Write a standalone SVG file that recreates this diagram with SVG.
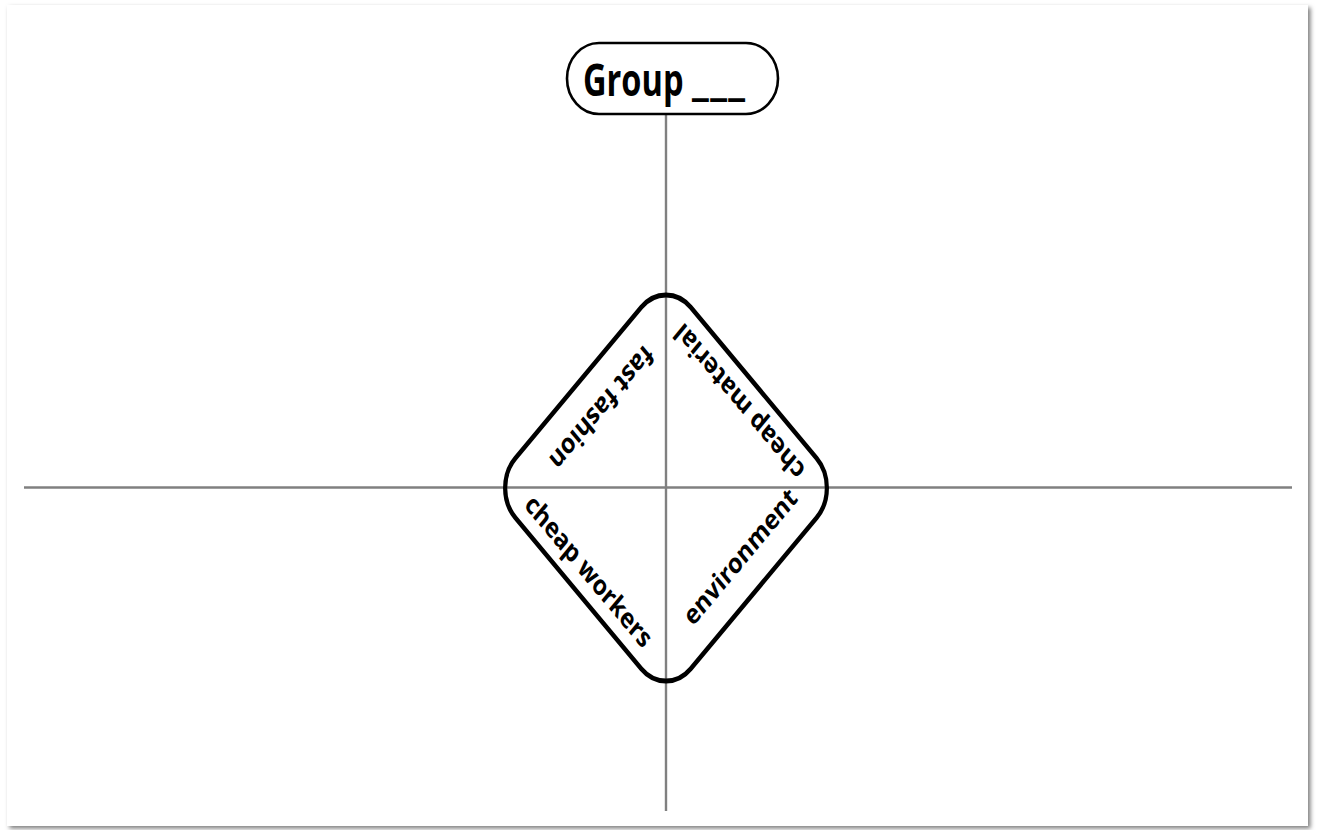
<svg xmlns="http://www.w3.org/2000/svg" width="1321" height="830" viewBox="0 0 1321 830">
  <defs>
    <filter id="shadow" x="-2%" y="-2%" width="104%" height="104%">
      <feDropShadow dx="2.5" dy="2.5" stdDeviation="2" flood-color="#000" flood-opacity="0.5"/>
    </filter>
    <style>
      .axis { stroke: #808080; stroke-width: 2.4; fill: none; }
      .shape { fill: #fff; stroke: #000; }
      .lbl { font-family: "Open Sans", "Noto Sans", "DejaVu Sans", sans-serif; font-weight: 700; font-size: 23px; fill: #000; text-anchor: middle; }
      .title { font-family: "Open Sans", "Noto Sans", "DejaVu Sans", sans-serif; font-weight: 700; font-size: 44px; fill: #000; }
    </style>
  </defs>
  <rect x="0" y="0" width="1321" height="830" fill="#fff"/>
  <rect x="7" y="5" width="1301" height="821" fill="#fff" filter="url(#shadow)"/>

  <g id="connectors">
    <line class="axis" x1="24" y1="487.5" x2="1292" y2="487.5"/>
    <line class="axis" x1="666" y1="115" x2="666" y2="811"/>
  </g>

  <g id="title">
    <rect class="shape" x="567" y="43" width="211" height="71" rx="32" ry="36" stroke-width="2.6"/>
    <text class="title" transform="translate(583,96) scale(0.74,1)">Group <tspan font-size="55" letter-spacing="2" dy="-3">___</tspan></text>
  </g>

  <g id="diamond" transform="translate(666,488) scale(1,1.2)">
    <rect x="-124" y="-124" width="248" height="248" rx="35" transform="rotate(45)" fill="none" stroke="#000" stroke-width="4.2"/>
    <g id="fast-fashion"><text class="lbl" transform="translate(-65,-67.5) rotate(135)" dy="0.3em">fast fashion</text></g>
    <g id="cheap-material"><text class="lbl" transform="translate(74,-72.5) rotate(-135)" dy="0.3em">cheap material</text></g>
    <g id="cheap-workers"><text class="lbl" transform="translate(-78,70) rotate(45)" dy="0.3em">cheap workers</text></g>
    <g id="environment"><text class="lbl" transform="translate(75,58) rotate(-45)" dy="0.3em">environment</text></g>
  </g>
</svg>
